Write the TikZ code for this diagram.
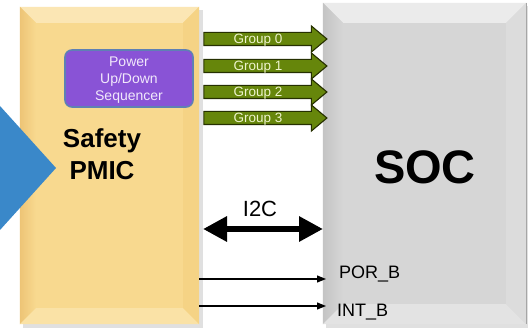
\documentclass[tikz,border=0pt]{standalone}
\usepackage{fontspec}
\setmainfont{Liberation Sans}
\usetikzlibrary{shapes.arrows,arrows.meta,calc}
\definecolor{pmicfill}{HTML}{F8D98F}
\definecolor{pmictop}{HTML}{FBE6B4}
\definecolor{pmicleft}{HTML}{EDC476}
\definecolor{pmicbot}{HTML}{FAE2A6}
\definecolor{pmicright}{HTML}{F5D385}
\definecolor{socfill}{HTML}{D6D6D6}
\definecolor{soctop}{HTML}{EBEBEB}
\definecolor{socleft}{HTML}{C4C4C4}
\definecolor{socbot}{HTML}{E3E3E3}
\definecolor{socright}{HTML}{DCDCDC}
\definecolor{seqfill}{HTML}{8953D6}
\definecolor{seqdraw}{HTML}{5F80B4}
\definecolor{seqtext}{HTML}{F1E8FB}
\definecolor{grpfill}{HTML}{66860B}
\definecolor{grpdraw}{HTML}{263000}
\definecolor{grptext}{HTML}{EEF4CC}
\definecolor{chevron}{HTML}{3A88C9}
\tikzset{
  chip/.style={rectangle, inner sep=0pt},
  grouparrow/.style={shape=single arrow, draw=grpdraw, line width=1.1pt, fill=grpfill,
    minimum height=123pt, text height=6pt, text depth=6pt, text width=0pt,
    single arrow head extend=6.5pt,
    single arrow tip angle=80, inner sep=0pt},
  grouptxt/.style={inner sep=0pt, text=grptext, font=\fontsize{13.5}{15}\selectfont},
  sigline/.style={draw=black, line width=1.2pt, -{Triangle[length=9pt,width=7pt]}},
  siglabel/.style={anchor=west, inner sep=0pt, font=\fontsize{18}{20}\selectfont},
  seqbox/.style={rectangle, rounded corners=7pt, fill=seqfill, draw=seqdraw, line width=1.6pt,
    minimum width=128pt, minimum height=57pt},
  seqtxt/.style={inner sep=0pt, text=seqtext, font=\fontsize{14}{16}\selectfont}
}
\begin{document}
\begin{tikzpicture}[x=1pt,y=-1pt]
\useasboundingbox (0,0) rectangle (528,334);
\fill[white] (0,0) rectangle (528,334);
% PMIC block
\fill[black,opacity=0.12] (23,10) rectangle (203,328);
\node[chip, fill=pmicfill, minimum width=179pt, minimum height=317pt] (pmic) at (109.5,165.5) {};
\coordinate (pa) at (pmic.north west);
\coordinate (pb) at (pmic.north east);
\coordinate (pc) at (pmic.south east);
\coordinate (pd) at (pmic.south west);
\coordinate (pa2) at ($(pa)+(16,16)$);
\coordinate (pb2) at ($(pb)+(-16,16)$);
\coordinate (pc2) at ($(pc)+(-16,-16)$);
\coordinate (pd2) at ($(pd)+(16,-16)$);
\fill[pmictop] (pa) -- (pb) -- (pb2) -- (pa2) -- cycle;
\shade[left color=pmicleft, right color=pmicfill] (pa) -- (pa2) -- (pd2) -- (pd) -- cycle;
\fill[pmicbot] (pd) -- (pd2) -- (pc2) -- (pc) -- cycle;
\fill[pmicright] (pb) -- (pc) -- (pc2) -- (pb2) -- cycle;
% SOC block
\fill[black,opacity=0.12] (326,6) rectangle (529,328);
\node[chip, fill=socfill, minimum width=203pt, minimum height=321pt] (soc) at (424.5,163.5) {};
\coordinate (sa) at (soc.north west);
\coordinate (sb) at (soc.north east);
\coordinate (sc) at (soc.south east);
\coordinate (sd) at (soc.south west);
\coordinate (sa2) at ($(sa)+(20,20)$);
\coordinate (sb2) at ($(sb)+(-20,20)$);
\coordinate (sc2) at ($(sc)+(-20,-20)$);
\coordinate (sd2) at ($(sd)+(20,-20)$);
\fill[soctop] (sa) -- (sb) -- (sb2) -- (sa2) -- cycle;
\shade[left color=socleft, right color=socfill] (sa) -- (sa2) -- (sd2) -- (sd) -- cycle;
\fill[socbot] (sd) -- (sd2) -- (sc2) -- (sc) -- cycle;
\fill[socright] (sb) -- (sc) -- (sc2) -- (sb2) -- cycle;
\draw[gray!70, line width=0.8pt] (sb) -- (sc);
% titles
\node[inner sep=0pt, font=\bfseries\fontsize{26}{32}\selectfont, align=center] (pmictitle) at (102,154) {Safety\\PMIC};
\node[inner sep=0pt, font=\bfseries\fontsize{47}{50}\selectfont] (soctitle) at (425,167) {SOC};
% sequencer
\node[seqbox] (seq) at (129,78.5) {};
\node[seqtxt] (seq1) at (129,62) {Power};
\node[seqtxt] (seq2) at (129,79.5) {Up/Down};
\node[seqtxt] (seq3) at (129,97) {Sequencer};
% chevron
\fill[chevron] (0,106) -- (56,168) -- (0,230) -- cycle;
% group arrows
\node[grouparrow] (g0) at (261.5,39) {};
\node[grouparrow] (g1) at (261.5,66) {};
\node[grouparrow] (g2) at (261.5,92) {};
\node[grouptxt] (g0t) at (258,40) {Group 0};
\node[grouparrow] (g3) at (261.5,118) {};
\node[grouptxt] (g1t) at (258,67) {Group 1};
\node[grouptxt] (g2t) at (258,93) {Group 2};
\node[grouptxt] (g3t) at (258,119) {Group 3};
% I2C
\coordinate (i2cl) at (203,229);
\coordinate (i2cr) at (323,229);
\draw[line width=6pt, {Triangle[length=24pt,width=24pt]}-{Triangle[length=24pt,width=24pt]}] (i2cl) -- (i2cr);
\node[inner sep=0pt, font=\fontsize{22}{24}\selectfont] (i2c) at (260,209) {I2C};
% signals
\coordinate (por0) at (pmic.east |- 0,279);
\coordinate (por1) at (326,279);
\coordinate (int0) at (pmic.east |- 0,306);
\coordinate (int1) at (326,306);
\draw[sigline] (por0) -- (por1);
\draw[sigline] (int0) -- (int1);
\node[siglabel] (porl) at (339,274) {POR\_B};
\node[siglabel] (intl) at (337,312) {INT\_B};
\end{tikzpicture}
\end{document}
